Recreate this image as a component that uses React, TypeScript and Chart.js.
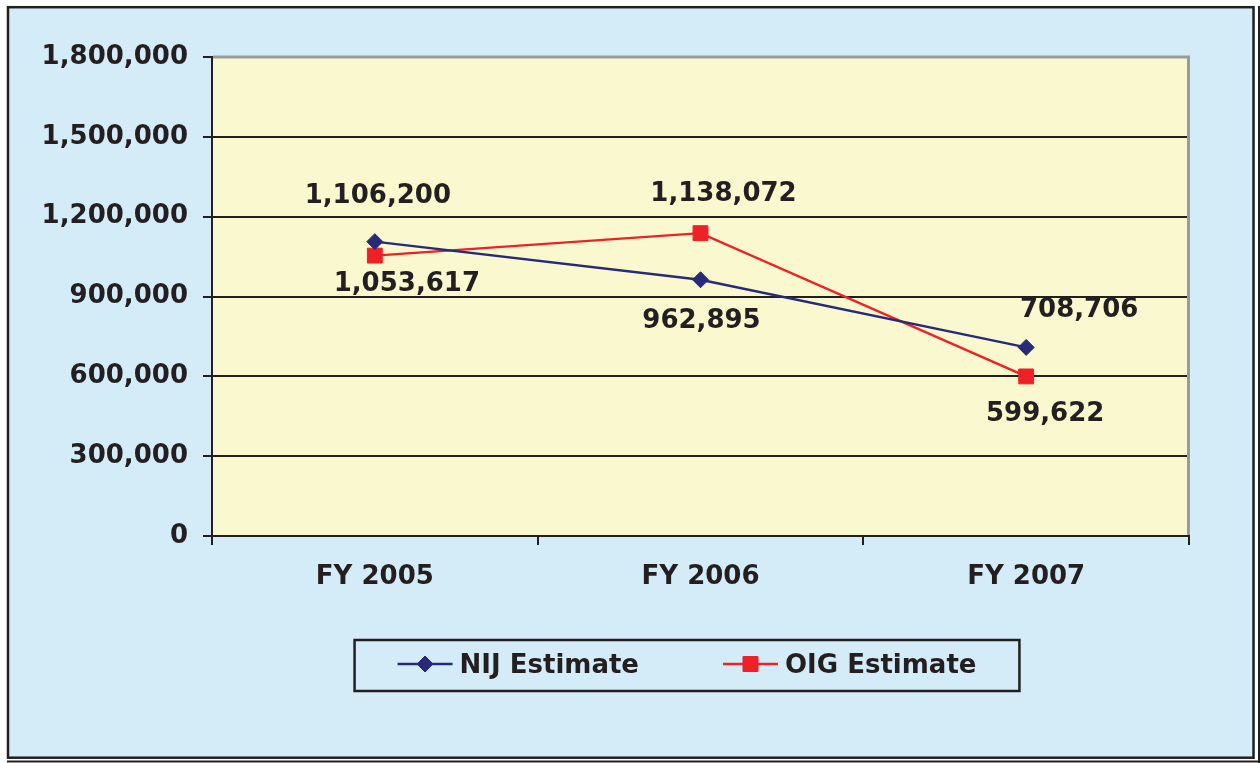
import React, { useEffect, useRef } from 'react';
import { Chart, registerables } from 'chart.js';

Chart.register(...registerables);

const categories = ['FY 2005', 'FY 2006', 'FY 2007'];
const seriesNames = ['NIJ Estimate', 'OIG Estimate'];
const nijValues = [1106200, 962895, 708706];
const oigValues = [1053617, 1138072, 599622];
const yTickValues = [0, 300000, 600000, 900000, 1200000, 1500000, 1800000];

// label placement relative to each point (style only)
const nijLabelOffsets = [[3, -45], [1, 41], [53, -37]];
const oigLabelOffsets = [[32, 29], [23, -39], [19, 38]];

const BG = '#D4EBF8';
const PLOT_BG = '#FAF8CE';
const INK = '#231F20';
const NAVY = '#262A78';
const RED = '#EE2128';
const GRAY = '#9A9A9A';
const FONT_FAMILY = "'DejaVu Sans', Verdana, sans-serif";
const FONT_SIZE = 26;

const fmt = (v: number) => v.toLocaleString('en-US');

function drawMarker(ctx: CanvasRenderingContext2D, style: string, x: number, y: number, color: string) {
  ctx.save();
  ctx.fillStyle = color;
  ctx.strokeStyle = color;
  ctx.lineWidth = 1;
  ctx.beginPath();
  if (style === 'rectRot') {
    const r = 8;
    ctx.moveTo(x - r, y);
    ctx.lineTo(x, y - r);
    ctx.lineTo(x + r, y);
    ctx.lineTo(x, y + r);
    ctx.closePath();
  } else {
    const s = 7.5;
    ctx.rect(x - s, y - s, 2 * s, 2 * s);
  }
  ctx.fill();
  ctx.stroke();
  ctx.restore();
}

const decorPlugin = {
  id: 'decor',
  beforeDraw(chart: any) {
    const { ctx, width, height, chartArea: a } = chart;
    ctx.save();
    ctx.fillStyle = '#FFFFFF';
    ctx.fillRect(0, 0, width, height);
    ctx.fillStyle = BG;
    ctx.fillRect(7, 6, width - 12, height - 10);
    ctx.strokeStyle = INK;
    ctx.lineWidth = 2.5;
    ctx.strokeRect(8, 7.2, width - 14.5, height - 12.5);
    ctx.lineWidth = 2;
    ctx.beginPath();
    ctx.moveTo(width - 1, 6);
    ctx.lineTo(width - 1, height);
    ctx.moveTo(7, height - 1.5);
    ctx.lineTo(width, height - 1.5);
    ctx.stroke();
    ctx.fillStyle = PLOT_BG;
    ctx.fillRect(a.left, a.top, a.right - a.left, a.bottom - a.top);
    ctx.restore();
  },
  beforeDatasetsDraw(chart: any) {
    const { ctx, chartArea: a } = chart;
    ctx.save();
    ctx.strokeStyle = GRAY;
    ctx.lineWidth = 3;
    ctx.beginPath();
    ctx.moveTo(a.left + 1, a.top);
    ctx.lineTo(a.right - 0.5, a.top);
    ctx.lineTo(a.right - 0.5, a.bottom - 1);
    ctx.stroke();
    ctx.restore();
  },
  afterDatasetsDraw(chart: any) {
    const { ctx } = chart;
    const offsets = [nijLabelOffsets, oigLabelOffsets];
    ctx.save();
    ctx.font = `bold ${FONT_SIZE}px ${FONT_FAMILY}`;
    ctx.fillStyle = INK;
    ctx.textAlign = 'center';
    ctx.textBaseline = 'middle';
    chart.data.datasets.forEach((ds: any, di: number) => {
      const meta = chart.getDatasetMeta(di);
      meta.data.forEach((pt: any, i: number) => {
        const [dx, dy] = offsets[di][i];
        ctx.fillText(fmt(ds.data[i]), pt.x + dx, pt.y + dy);
      });
    });
    ctx.restore();
  },
  afterDraw(chart: any) {
    const { ctx } = chart;
    const datasets = chart.data.datasets;
    ctx.save();
    ctx.font = `bold ${FONT_SIZE}px ${FONT_FAMILY}`;
    const lineLen = 55;
    const gap = 7;
    const itemGap = 84;
    const padX = 43;
    const widths = datasets.map((d: any) => lineLen + gap + ctx.measureText(d.label).width);
    const contentW = widths.reduce((s: number, w: number) => s + w, 0) + itemGap * (datasets.length - 1);
    const boxW = contentW + padX * 2;
    const boxH = 51;
    const cx = 687;
    const boxX = cx - boxW / 2;
    const boxY = 640;
    ctx.fillStyle = BG;
    ctx.fillRect(boxX, boxY, boxW, boxH);
    ctx.strokeStyle = INK;
    ctx.lineWidth = 2.5;
    ctx.strokeRect(boxX, boxY, boxW, boxH);
    let x = boxX + padX;
    const y = boxY + boxH / 2 - 1.5;
    datasets.forEach((d: any, i: number) => {
      ctx.strokeStyle = d.borderColor;
      ctx.lineWidth = 2.5;
      ctx.beginPath();
      ctx.moveTo(x, y);
      ctx.lineTo(x + lineLen, y);
      ctx.stroke();
      drawMarker(ctx, d.pointStyle, x + lineLen / 2, y, d.borderColor);
      ctx.fillStyle = INK;
      ctx.textAlign = 'left';
      ctx.textBaseline = 'middle';
      ctx.fillText(d.label, x + lineLen + gap, y + 2);
      x += widths[i] + itemGap;
    });
    ctx.restore();
  },
};

export default function App() {
  const canvasRef = useRef<HTMLCanvasElement | null>(null);

  useEffect(() => {
    const canvas = canvasRef.current;
    if (!canvas) return;
    const font = { family: FONT_FAMILY, size: FONT_SIZE, weight: 'bold' as const };
    const yMax = yTickValues[yTickValues.length - 1];
    const chart = new Chart(canvas, {
      type: 'line',
      data: {
        labels: categories,
        datasets: [
          {
            label: seriesNames[0],
            data: nijValues,
            borderColor: NAVY,
            backgroundColor: NAVY,
            borderWidth: 2.4,
            pointStyle: 'rectRot',
            pointRadius: 8,
            pointBorderWidth: 1,
            tension: 0,
          },
          {
            label: seriesNames[1],
            data: oigValues,
            borderColor: RED,
            backgroundColor: RED,
            borderWidth: 2.4,
            pointStyle: 'rect',
            pointRadius: 10.5,
            pointBorderWidth: 1,
            tension: 0,
          },
        ],
      },
      options: {
        responsive: false,
        animation: false,
        devicePixelRatio: 1,
        layout: { padding: { left: 0, top: 57, right: 71, bottom: 0 } },
        plugins: {
          legend: { display: false },
          tooltip: { enabled: false },
          title: { display: false },
        },
        scales: {
          x: {
            type: 'category',
            offset: true,
            grid: {
              offset: true,
              drawOnChartArea: false,
              drawTicks: true,
              tickLength: 9,
              color: INK,
              lineWidth: 2,
            },
            border: { color: INK, width: 2 },
            ticks: { color: INK, font, padding: 17 },
            afterFit: (scale: any) => {
              scale.height = 227;
            },
          },
          y: {
            min: 0,
            max: yMax,
            afterBuildTicks: (scale: any) => {
              scale.ticks = yTickValues.map((v) => ({ value: v }));
            },
            grid: {
              color: (c: any) => (c.tick && c.tick.value === yMax ? 'rgba(0,0,0,0)' : INK),
              tickColor: INK,
              lineWidth: 2,
              tickLength: 9,
              drawTicks: true,
            },
            border: { color: INK, width: 2 },
            ticks: {
              color: INK,
              font,
              padding: 15,
              callback: (v: any) => fmt(Number(v)),
            },
            afterFit: (scale: any) => {
              scale.width = 212;
            },
          },
        },
      },
      plugins: [decorPlugin],
    });
    return () => chart.destroy();
  }, []);

  return (
    <div style={{ position: 'absolute', left: 0, top: 0, width: 1260, height: 763 }}>
      <canvas ref={canvasRef} width={1260} height={763} style={{ display: 'block' }} />
    </div>
  );
}
